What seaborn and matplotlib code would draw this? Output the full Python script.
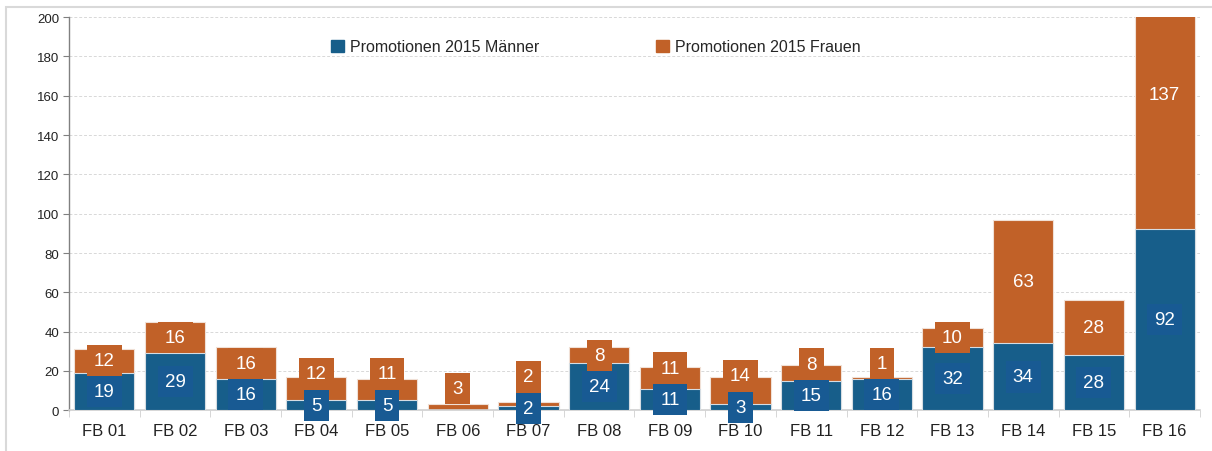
import numpy as np
import pandas as pd
import matplotlib
matplotlib.use("Agg")
import matplotlib.pyplot as plt
from matplotlib.patches import Rectangle, Patch
import seaborn as sns

fachbereiche = ['FB 01', 'FB 02', 'FB 03', 'FB 04', 'FB 05', 'FB 06', 'FB 07', 'FB 08',
                'FB 09', 'FB 10', 'FB 11', 'FB 12', 'FB 13', 'FB 14', 'FB 15', 'FB 16']
maenner = [19, 29, 16, 5, 5, 0, 2, 24, 11, 3, 15, 16, 32, 34, 28, 92]
frauen = [12, 16, 16, 12, 11, 3, 2, 8, 11, 14, 8, 1, 10, 63, 28, 137]

blau = '#175E8A'
blau_label = '#185A93'
orange = '#C16128'

df = pd.DataFrame({'fb': fachbereiche, 'm': maenner, 'w': frauen})
df['gesamt'] = df['m'] + df['w']

sns.set_style('white')
plt.rcParams['font.family'] = ['Liberation Sans', 'DejaVu Sans']

fig = plt.figure(figsize=(12.12, 4.52), dpi=100)
ax = fig.add_axes([0.057, 0.09, 0.933, 0.87])

# gestapelt: Gesamt in orange, Männer darüber in blau
sns.barplot(data=df, x='fb', y='gesamt', color=orange, saturation=1, width=0.85,
            edgecolor='#f0e0d6', linewidth=0.8, ax=ax, zorder=2)
sns.barplot(data=df, x='fb', y='m', color=blau, saturation=1, width=0.85,
            edgecolor='#d5dde3', linewidth=0.8, ax=ax, zorder=3)

# Beschriftungen (kleine Segmente: Label nach oben schieben, damit nichts überlappt)
for i, row in df.iterrows():
    m_y = row['m'] / 2
    if row['m'] > 0:
        ax.text(i, m_y, str(row['m']), ha='center', va='center',
                color='white', fontsize=13.5, zorder=5,
                bbox=dict(boxstyle='square,pad=0.38', fc=blau_label, ec='none'))
    if row['w'] > 0:
        w_y = row['m'] + row['w'] / 2
        if row['m'] > 0:
            w_y = max(w_y, m_y + 16)
        w_y = max(w_y, 11)
        ax.text(i, w_y, str(row['w']), ha='center', va='center',
                color='white', fontsize=13.5, zorder=5,
                bbox=dict(boxstyle='square,pad=0.38', fc=orange, ec='none'))

ax.set_ylim(0, 200)
ax.set_xlim(-0.5, len(fachbereiche) - 0.5)
ax.set_yticks(np.arange(0, 201, 20))
ax.set_xlabel('')
ax.set_ylabel('')
ax.yaxis.grid(True, color='#d8d8d8', linestyle=(0, (3, 2)), linewidth=0.7, zorder=0)
ax.set_axisbelow(True)

for s in ['top', 'right']:
    ax.spines[s].set_visible(False)
ax.spines['left'].set_color('#808080')
ax.spines['left'].set_linewidth(1)
ax.spines['bottom'].set_color('#d0d0d0')
ax.spines['bottom'].set_linewidth(1.2)

ax.tick_params(axis='y', labelsize=9.5, length=4, color='#808080', left=True, pad=3)
ax.tick_params(axis='x', labelsize=12, length=0, pad=9)
ax.set_xticks(np.arange(-0.5, len(fachbereiche), 1), minor=True)
ax.tick_params(axis='x', which='minor', length=5, color='#d0d0d0', bottom=True)
for lbl in ax.get_xticklabels() + ax.get_yticklabels():
    lbl.set_color('#222222')

handles = [Patch(color=blau, label='Promotionen 2015 Männer'),
           Patch(color=orange, label='Promotionen 2015 Frauen')]
ax.legend(handles=handles, loc='upper center', bbox_to_anchor=(0.466, 0.98), ncol=2,
          frameon=False, fontsize=11.5, handlelength=0.8, handleheight=0.8,
          handletextpad=0.4, columnspacing=7.3)

fig.patches.append(Rectangle((0.005, -0.05), 1.1, 1.032, transform=fig.transFigure,
                             fill=False, edgecolor='#d9d9d9', linewidth=1.5))

fig.savefig('out.png', dpi=100)
